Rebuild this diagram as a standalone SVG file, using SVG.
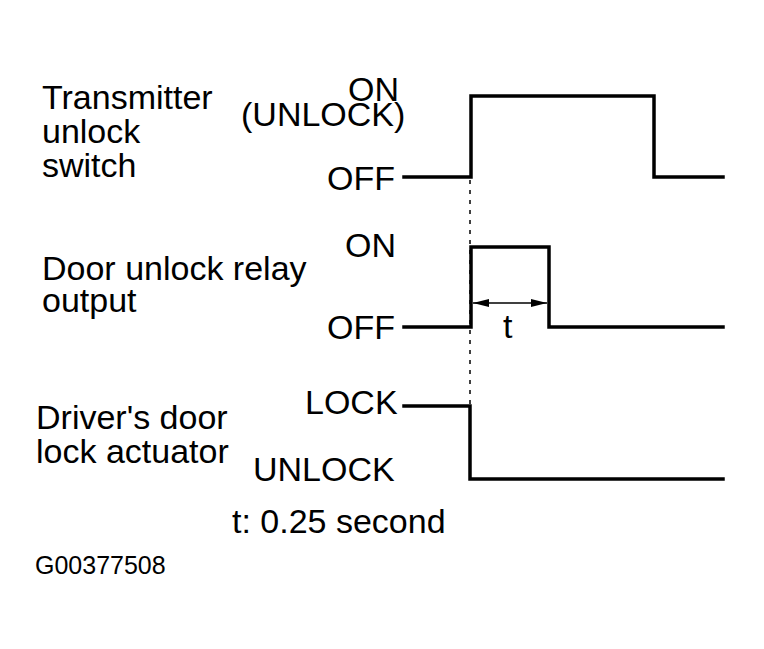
<svg xmlns="http://www.w3.org/2000/svg" width="764" height="649" viewBox="0 0 764 649">
<defs>
<style>
text{font-family:"Liberation Sans",Arial,sans-serif;fill:#000;font-size:34px}
.sig{fill:none;stroke:#000;stroke-width:3.5;stroke-linejoin:miter;stroke-linecap:square}
.dash{fill:none;stroke:#000;stroke-width:1.5;stroke-dasharray:4 6}
.dim{fill:none;stroke:#000;stroke-width:1.5}
.code{font-size:25px}
</style>
<marker id="ah" viewBox="0 0 16 8" refX="16" refY="4" markerWidth="16" markerHeight="8" markerUnits="userSpaceOnUse" orient="auto-start-reverse">
<path d="M0,0 L16,4 L0,8 Z" fill="#000"/>
</marker>
</defs>
<rect width="764" height="649" fill="#fff"/>
<g id="transmitter">
<text x="42" y="109">Transmitter</text>
<text x="42" y="143">unlock</text>
<text x="42" y="177">switch</text>
<text x="348" y="101">ON</text>
<text x="241" y="126">(UNLOCK)</text>
<text x="327" y="190">OFF</text>
</g>
<g id="relay">
<text x="42" y="280">Door unlock relay</text>
<text x="42" y="312">output</text>
<text x="345" y="257">ON</text>
<text x="327" y="339">OFF</text>
<text x="503" y="338">t</text>
</g>
<g id="actuator">
<text x="36" y="429">Driver's door</text>
<text x="36" y="463">lock actuator</text>
<text x="305" y="414">LOCK</text>
<text x="253" y="481">UNLOCK</text>
</g>
<g id="notes">
<text x="232" y="533">t: 0.25 second</text>
<text class="code" x="35" y="574">G00377508</text>
</g>
<g id="connectors">
<path class="sig" d="M404,177 H471 V96 H654 V177 H723"/>
<path class="sig" d="M404,327 H471 V247 H549 V327 H723"/>
<path class="sig" d="M404,406 H470 V479 H723"/>
<path class="dash" d="M470,180 V405"/>
<path class="dim" d="M473,303 H547" marker-start="url(#ah)" marker-end="url(#ah)"/>
</g>
</svg>
